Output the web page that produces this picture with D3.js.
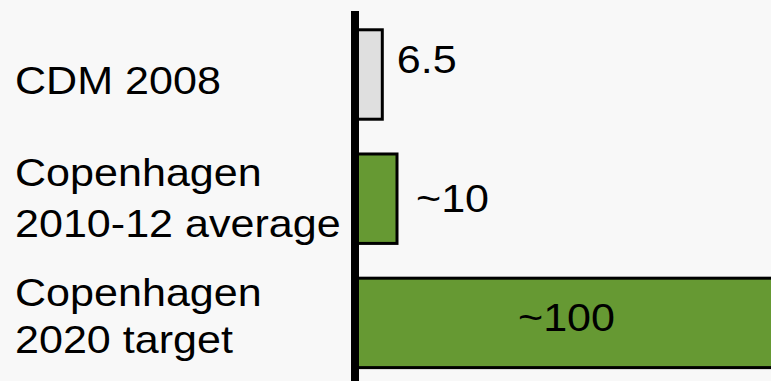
<!DOCTYPE html>
<html>
<head>
<meta charset="utf-8">
<script src="https://cdn.jsdelivr.net/npm/d3@7"></script>
<style>
  html, body { margin: 0; padding: 0; background: #f8f8f8; }
  svg { display: block; }
  text { font-family: "Liberation Sans", Arial, Helvetica, sans-serif; fill: #000; }
</style>
</head>
<body>
<svg id="chart" width="771" height="381"></svg>
<script>
// Finance flows (billion USD / yr)
const categories = ["CDM 2008", "Copenhagen 2010-12 average", "Copenhagen 2020 target"];
const categoryLines = [["CDM 2008"], ["Copenhagen", "2010-12 average"], ["Copenhagen", "2020 target"]];
const values = [6.5, 10, 100];
const valueLabels = ["6.5", "~10", "~100"];
const barColors = ["#dfdfdf", "#669933", "#669933"];

const W = 771, H = 381;
const svg = d3.select("#chart");
svg.append("rect").attr("width", W).attr("height", H).attr("fill", "#f8f8f8");

const x0 = 355;
const x = d3.scaleLinear().domain([0, 100]).range([x0, x0 + 420]);
const y = d3.scaleBand().domain(categories).range([12.4, 385]).paddingInner(0.28).paddingOuter(0.14);

const FS = 38.3, SX = 1.125;

// bars
svg.append("g").selectAll("rect")
  .data(categories)
  .join("rect")
  .attr("x", x(0))
  .attr("y", d => y(d))
  .attr("width", (d, i) => x(values[i]) - x(0))
  .attr("height", y.bandwidth())
  .attr("fill", (d, i) => barColors[i])
  .attr("stroke", "#000")
  .attr("stroke-width", 3);

// vertical axis line
svg.append("line")
  .attr("x1", x0).attr("x2", x0)
  .attr("y1", 11).attr("y2", H)
  .attr("stroke", "#000").attr("stroke-width", 8);

// category labels, baseline offsets from the top of each band
const lineOffsets = [[64], [32.3, 83.3], [27.8, 74.8]];
categories.forEach((c, i) => {
  categoryLines[i].forEach((ln, j) => {
    svg.append("text")
      .attr("transform", `translate(15,${y(c) + lineOffsets[i][j]}) scale(${SX},1)`)
      .attr("font-size", FS)
      .text(ln);
  });
});

// value labels
const labelDx = [14.5, 19, null];
const labelDy = [43.5, 58, 53];
categories.forEach((c, i) => {
  const t = svg.append("text")
    .attr("font-size", FS);
  if (labelDx[i] === null) {
    // inside the long bar, centred in the visible part
    const cx = (x(0) + W) / 2 + 3.5;
    t.attr("transform", `translate(${cx},${y(c) + labelDy[i]}) scale(${SX},1)`)
     .attr("text-anchor", "middle");
  } else {
    t.attr("transform", `translate(${x(values[i]) + labelDx[i]},${y(c) + labelDy[i]}) scale(${SX},1)`);
  }
  t.text(valueLabels[i]);
});
</script>
</body>
</html>
